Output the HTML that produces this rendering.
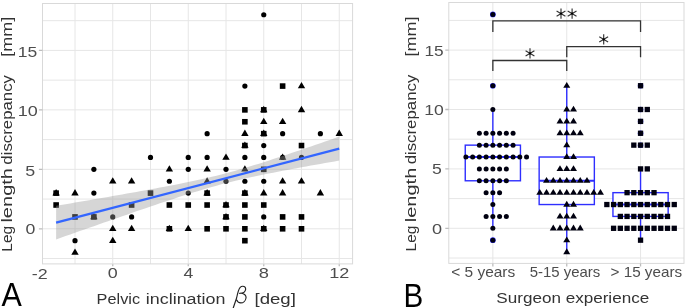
<!DOCTYPE html>
<html><head><meta charset="utf-8"><style>
html,body{margin:0;padding:0;background:#fff;}
body{width:685px;height:308px;overflow:hidden;font-family:"Liberation Sans",sans-serif;}
svg{display:block;will-change:transform;}
</style></head><body>
<svg width="685" height="308" viewBox="0 0 685 308">
<rect width="685" height="308" fill="#fff"/>
<path d="M75.00 3.5V263.9 M112.75 3.5V263.9 M150.50 3.5V263.9 M188.25 3.5V263.9 M226.00 3.5V263.9 M263.75 3.5V263.9 M301.50 3.5V263.9 M339.25 3.5V263.9 M42.5 258.53H352.6 M42.5 228.80H352.6 M42.5 199.07H352.6 M42.5 169.34H352.6 M42.5 139.60H352.6 M42.5 109.87H352.6 M42.5 80.14H352.6 M42.5 50.41H352.6 M42.5 20.67H352.6" stroke="#e6e6e6" stroke-width="1" fill="none"/>
<rect x="42.5" y="3.5" width="310.1" height="260.4" fill="none" stroke="#d9d9d9" stroke-width="1"/>
<g><rect x="53.33" y="190.32" width="5.6" height="5.6" fill="#000"/><polygon points="56.12,189.09 59.83,195.39 52.42,195.39" fill="#000"/><rect x="53.33" y="202.21" width="5.6" height="5.6" fill="#000"/><polygon points="75.00,189.09 78.70,195.39 71.30,195.39" fill="#000"/><rect x="72.20" y="214.11" width="5.6" height="5.6" fill="#000"/><circle cx="75.00" cy="240.69" r="2.6" fill="#000"/><polygon points="75.00,248.55 78.70,254.85 71.30,254.85" fill="#000"/><circle cx="93.88" cy="169.34" r="2.6" fill="#000"/><circle cx="93.88" cy="193.12" r="2.6" fill="#000"/><rect x="91.08" y="214.11" width="5.6" height="5.6" fill="#000"/><polygon points="93.88,212.88 97.58,219.18 90.17,219.18" fill="#000"/><polygon points="112.75,177.20 116.45,183.50 109.05,183.50" fill="#000"/><circle cx="112.75" cy="216.91" r="2.6" fill="#000"/><polygon points="112.75,224.77 116.45,231.07 109.05,231.07" fill="#000"/><polygon points="112.75,236.66 116.45,242.96 109.05,242.96" fill="#000"/><polygon points="131.62,177.20 135.32,183.50 127.92,183.50" fill="#000"/><rect x="128.82" y="202.21" width="5.6" height="5.6" fill="#000"/><circle cx="131.62" cy="216.91" r="2.6" fill="#000"/><polygon points="131.62,224.77 135.32,231.07 127.92,231.07" fill="#000"/><circle cx="150.50" cy="157.44" r="2.6" fill="#000"/><rect x="147.70" y="190.32" width="5.6" height="5.6" fill="#000"/><polygon points="169.38,165.30 173.07,171.60 165.68,171.60" fill="#000"/><circle cx="169.38" cy="181.23" r="2.6" fill="#000"/><rect x="166.57" y="202.21" width="5.6" height="5.6" fill="#000"/><rect x="166.57" y="226.00" width="5.6" height="5.6" fill="#000"/><polygon points="169.38,224.77 173.07,231.07 165.68,231.07" fill="#000"/><circle cx="188.25" cy="157.44" r="2.6" fill="#000"/><circle cx="188.25" cy="169.34" r="2.6" fill="#000"/><circle cx="188.25" cy="193.12" r="2.6" fill="#000"/><rect x="185.45" y="202.21" width="5.6" height="5.6" fill="#000"/><polygon points="188.25,224.77 191.95,231.07 184.55,231.07" fill="#000"/><circle cx="207.12" cy="133.66" r="2.6" fill="#000"/><circle cx="207.12" cy="157.44" r="2.6" fill="#000"/><polygon points="207.12,165.30 210.82,171.60 203.43,171.60" fill="#000"/><polygon points="207.12,177.20 210.82,183.50 203.43,183.50" fill="#000"/><rect x="204.32" y="190.32" width="5.6" height="5.6" fill="#000"/><polygon points="207.12,189.09 210.82,195.39 203.43,195.39" fill="#000"/><rect x="204.32" y="202.21" width="5.6" height="5.6" fill="#000"/><rect x="204.32" y="226.00" width="5.6" height="5.6" fill="#000"/><polygon points="226.00,153.41 229.70,159.71 222.30,159.71" fill="#000"/><circle cx="226.00" cy="169.34" r="2.6" fill="#000"/><circle cx="226.00" cy="181.23" r="2.6" fill="#000"/><rect x="223.20" y="202.21" width="5.6" height="5.6" fill="#000"/><polygon points="226.00,200.98 229.70,207.28 222.30,207.28" fill="#000"/><rect x="223.20" y="214.11" width="5.6" height="5.6" fill="#000"/><polygon points="226.00,212.88 229.70,219.18 222.30,219.18" fill="#000"/><rect x="223.20" y="226.00" width="5.6" height="5.6" fill="#000"/><circle cx="244.88" cy="86.08" r="2.6" fill="#000"/><rect x="242.07" y="107.07" width="5.6" height="5.6" fill="#000"/><rect x="242.07" y="118.96" width="5.6" height="5.6" fill="#000"/><polygon points="244.88,129.62 248.57,135.92 241.18,135.92" fill="#000"/><rect x="242.07" y="142.75" width="5.6" height="5.6" fill="#000"/><polygon points="244.88,141.52 248.57,147.82 241.18,147.82" fill="#000"/><circle cx="244.88" cy="157.44" r="2.6" fill="#000"/><polygon points="244.88,165.30 248.57,171.60 241.18,171.60" fill="#000"/><circle cx="244.88" cy="181.23" r="2.6" fill="#000"/><rect x="242.07" y="190.32" width="5.6" height="5.6" fill="#000"/><polygon points="244.88,189.09 248.57,195.39 241.18,195.39" fill="#000"/><rect x="242.07" y="202.21" width="5.6" height="5.6" fill="#000"/><rect x="242.07" y="214.11" width="5.6" height="5.6" fill="#000"/><rect x="242.07" y="226.00" width="5.6" height="5.6" fill="#000"/><rect x="242.07" y="237.89" width="5.6" height="5.6" fill="#000"/><circle cx="263.75" cy="14.73" r="2.6" fill="#000"/><rect x="260.95" y="107.07" width="5.6" height="5.6" fill="#000"/><polygon points="263.75,105.84 267.45,112.14 260.05,112.14" fill="#000"/><polygon points="263.75,117.73 267.45,124.03 260.05,124.03" fill="#000"/><rect x="260.95" y="130.86" width="5.6" height="5.6" fill="#000"/><polygon points="263.75,129.62 267.45,135.92 260.05,135.92" fill="#000"/><circle cx="263.75" cy="145.55" r="2.6" fill="#000"/><circle cx="263.75" cy="157.44" r="2.6" fill="#000"/><rect x="260.95" y="166.53" width="5.6" height="5.6" fill="#000"/><circle cx="263.75" cy="181.23" r="2.6" fill="#000"/><polygon points="263.75,189.09 267.45,195.39 260.05,195.39" fill="#000"/><rect x="260.95" y="202.21" width="5.6" height="5.6" fill="#000"/><circle cx="263.75" cy="216.91" r="2.6" fill="#000"/><rect x="260.95" y="226.00" width="5.6" height="5.6" fill="#000"/><polygon points="263.75,224.77 267.45,231.07 260.05,231.07" fill="#000"/><rect x="279.82" y="83.28" width="5.6" height="5.6" fill="#000"/><polygon points="282.62,117.73 286.32,124.03 278.93,124.03" fill="#000"/><circle cx="282.62" cy="133.66" r="2.6" fill="#000"/><circle cx="282.62" cy="157.44" r="2.6" fill="#000"/><polygon points="282.62,153.41 286.32,159.71 278.93,159.71" fill="#000"/><polygon points="282.62,177.20 286.32,183.50 278.93,183.50" fill="#000"/><polygon points="282.62,189.09 286.32,195.39 278.93,195.39" fill="#000"/><rect x="279.82" y="214.11" width="5.6" height="5.6" fill="#000"/><rect x="279.82" y="226.00" width="5.6" height="5.6" fill="#000"/><polygon points="301.50,82.05 305.20,88.35 297.80,88.35" fill="#000"/><polygon points="301.50,105.84 305.20,112.14 297.80,112.14" fill="#000"/><rect x="298.70" y="142.75" width="5.6" height="5.6" fill="#000"/><circle cx="301.50" cy="157.44" r="2.6" fill="#000"/><polygon points="301.50,177.20 305.20,183.50 297.80,183.50" fill="#000"/><rect x="298.70" y="214.11" width="5.6" height="5.6" fill="#000"/><rect x="298.70" y="226.00" width="5.6" height="5.6" fill="#000"/><circle cx="320.38" cy="133.66" r="2.6" fill="#000"/><polygon points="320.38,189.09 324.07,195.39 316.68,195.39" fill="#000"/><polygon points="339.25,129.62 342.95,135.92 335.55,135.92" fill="#000"/></g>
<polygon points="56.12,205.81 60.84,205.00 65.56,204.20 70.28,203.39 75.00,202.59 79.72,201.78 84.44,200.97 89.16,200.15 93.88,199.34 98.59,198.53 103.31,197.71 108.03,196.89 112.75,196.06 117.47,195.24 122.19,194.41 126.91,193.57 131.62,192.74 136.34,191.89 141.06,191.05 145.78,190.19 150.50,189.33 155.22,188.46 159.94,187.59 164.66,186.70 169.38,185.80 174.09,184.89 178.81,183.96 183.53,183.02 188.25,182.05 192.97,181.07 197.69,180.06 202.41,179.02 207.12,177.94 211.84,176.83 216.56,175.69 221.28,174.50 226.00,173.28 230.72,172.01 235.44,170.70 240.16,169.36 244.88,167.98 249.59,166.56 254.31,165.12 259.03,163.65 263.75,162.15 268.47,160.64 273.19,159.10 277.91,157.55 282.62,155.99 287.34,154.41 292.06,152.83 296.78,151.23 301.50,149.63 306.22,148.02 310.94,146.40 315.66,144.78 320.38,143.15 325.09,141.52 329.81,139.88 334.53,138.24 339.25,136.60 339.25,160.60 334.53,161.42 329.81,162.25 325.09,163.08 320.38,163.92 315.66,164.76 310.94,165.60 306.22,166.45 301.50,167.31 296.78,168.17 292.06,169.04 287.34,169.92 282.62,170.81 277.91,171.71 273.19,172.63 268.47,173.56 263.75,174.52 259.03,175.49 254.31,176.48 249.59,177.50 244.88,178.56 240.16,179.64 235.44,180.76 230.72,181.92 226.00,183.12 221.28,184.36 216.56,185.64 211.84,186.97 207.12,188.32 202.41,189.72 197.69,191.14 192.97,192.60 188.25,194.08 183.53,195.58 178.81,197.10 174.09,198.64 169.38,200.20 164.66,201.77 159.94,203.35 155.22,204.94 150.50,206.53 145.78,208.14 141.06,209.75 136.34,211.37 131.62,213.00 126.91,214.63 122.19,216.26 117.47,217.90 112.75,219.54 108.03,221.18 103.31,222.83 98.59,224.47 93.88,226.13 89.16,227.78 84.44,229.43 79.72,231.09 75.00,232.75 70.28,234.41 65.56,236.07 60.84,237.73 56.12,239.39" fill="#999999" fill-opacity="0.4"/>
<line x1="56.12" y1="222.60" x2="339.25" y2="148.60" stroke="#3366FF" stroke-width="2.3"/>
<path d="M38.9 228.80H42.5 M38.9 169.34H42.5 M38.9 109.87H42.5 M38.9 50.41H42.5 M112.75 264.2V266.2 M188.25 264.2V266.2 M263.75 264.2V266.2 M339.25 264.2V266.2" stroke="#bdbdbd" stroke-width="1.3" fill="none"/>
<path d="M492.85 2.5V263.4 M566.75 2.5V263.4 M640.55 2.5V263.4 M448.8 258.00H684.0 M448.8 228.30H684.0 M448.8 198.60H684.0 M448.8 168.90H684.0 M448.8 139.20H684.0 M448.8 109.50H684.0 M448.8 79.80H684.0 M448.8 50.10H684.0 M448.8 20.40H684.0" stroke="#e6e6e6" stroke-width="1" fill="none"/>
<rect x="448.8" y="2.5" width="235.2" height="260.9" fill="none" stroke="#d9d9d9" stroke-width="1"/>
<line x1="492.85" y1="145.14" x2="492.85" y2="109.50" stroke="#2e2eff" stroke-width="1.4"/><line x1="492.85" y1="180.78" x2="492.85" y2="228.30" stroke="#2e2eff" stroke-width="1.4"/><rect x="465.25" y="145.14" width="55.2" height="35.64" fill="#fff" stroke="#2e2eff" stroke-width="1.4"/><line x1="465.25" y1="157.02" x2="520.45" y2="157.02" stroke="#2e2eff" stroke-width="2"/><line x1="566.75" y1="157.02" x2="566.75" y2="85.74" stroke="#2e2eff" stroke-width="1.4"/><line x1="566.75" y1="204.54" x2="566.75" y2="252.06" stroke="#2e2eff" stroke-width="1.4"/><rect x="539.15" y="157.02" width="55.2" height="47.52" fill="#fff" stroke="#2e2eff" stroke-width="1.4"/><line x1="539.15" y1="180.78" x2="594.35" y2="180.78" stroke="#2e2eff" stroke-width="2"/><line x1="640.55" y1="192.66" x2="640.55" y2="168.90" stroke="#2e2eff" stroke-width="1.4"/><line x1="640.55" y1="216.42" x2="640.55" y2="240.18" stroke="#2e2eff" stroke-width="1.4"/><rect x="612.95" y="192.66" width="55.2" height="23.76" fill="#fff" stroke="#2e2eff" stroke-width="1.4"/><line x1="612.95" y1="204.54" x2="668.15" y2="204.54" stroke="#2e2eff" stroke-width="2"/>
<g><circle cx="492.85" cy="14.46" r="2.85" fill="#2e2eff"/><circle cx="492.85" cy="85.74" r="2.85" fill="#2e2eff"/><circle cx="492.85" cy="240.18" r="2.85" fill="#2e2eff"/><circle cx="640.55" cy="85.74" r="2.75" fill="#2e2eff"/><circle cx="640.55" cy="109.50" r="2.75" fill="#2e2eff"/><circle cx="640.55" cy="121.38" r="2.75" fill="#2e2eff"/><circle cx="640.55" cy="133.26" r="2.75" fill="#2e2eff"/><circle cx="640.55" cy="145.14" r="2.75" fill="#2e2eff"/></g>
<g><circle cx="492.85" cy="14.46" r="2.5" fill="#000010"/><circle cx="492.85" cy="85.74" r="2.5" fill="#000010"/><circle cx="492.85" cy="109.50" r="2.5" fill="#000010"/><circle cx="479.37" cy="133.26" r="2.5" fill="#000010"/><circle cx="486.11" cy="133.26" r="2.5" fill="#000010"/><circle cx="492.85" cy="133.26" r="2.5" fill="#000010"/><circle cx="499.59" cy="133.26" r="2.5" fill="#000010"/><circle cx="506.33" cy="133.26" r="2.5" fill="#000010"/><circle cx="513.07" cy="133.26" r="2.5" fill="#000010"/><circle cx="479.37" cy="145.14" r="2.5" fill="#000010"/><circle cx="486.11" cy="145.14" r="2.5" fill="#000010"/><circle cx="492.85" cy="145.14" r="2.5" fill="#000010"/><circle cx="499.59" cy="145.14" r="2.5" fill="#000010"/><circle cx="506.33" cy="145.14" r="2.5" fill="#000010"/><circle cx="513.07" cy="145.14" r="2.5" fill="#000010"/><circle cx="465.89" cy="157.02" r="2.5" fill="#000010"/><circle cx="472.63" cy="157.02" r="2.5" fill="#000010"/><circle cx="479.37" cy="157.02" r="2.5" fill="#000010"/><circle cx="486.11" cy="157.02" r="2.5" fill="#000010"/><circle cx="492.85" cy="157.02" r="2.5" fill="#000010"/><circle cx="499.59" cy="157.02" r="2.5" fill="#000010"/><circle cx="506.33" cy="157.02" r="2.5" fill="#000010"/><circle cx="513.07" cy="157.02" r="2.5" fill="#000010"/><circle cx="519.81" cy="157.02" r="2.5" fill="#000010"/><circle cx="526.55" cy="157.02" r="2.5" fill="#000010"/><circle cx="479.37" cy="168.90" r="2.5" fill="#000010"/><circle cx="486.11" cy="168.90" r="2.5" fill="#000010"/><circle cx="492.85" cy="168.90" r="2.5" fill="#000010"/><circle cx="499.59" cy="168.90" r="2.5" fill="#000010"/><circle cx="506.33" cy="168.90" r="2.5" fill="#000010"/><circle cx="479.37" cy="180.78" r="2.5" fill="#000010"/><circle cx="486.11" cy="180.78" r="2.5" fill="#000010"/><circle cx="492.85" cy="180.78" r="2.5" fill="#000010"/><circle cx="499.59" cy="180.78" r="2.5" fill="#000010"/><circle cx="506.33" cy="180.78" r="2.5" fill="#000010"/><circle cx="486.11" cy="192.66" r="2.5" fill="#000010"/><circle cx="492.85" cy="192.66" r="2.5" fill="#000010"/><circle cx="499.59" cy="192.66" r="2.5" fill="#000010"/><circle cx="492.85" cy="204.54" r="2.5" fill="#000010"/><circle cx="486.11" cy="216.42" r="2.5" fill="#000010"/><circle cx="492.85" cy="216.42" r="2.5" fill="#000010"/><circle cx="499.59" cy="216.42" r="2.5" fill="#000010"/><circle cx="506.33" cy="216.42" r="2.5" fill="#000010"/><circle cx="492.85" cy="228.30" r="2.5" fill="#000010"/><circle cx="492.85" cy="240.18" r="2.5" fill="#000010"/><polygon points="566.75,82.03 570.25,87.83 563.25,87.83" fill="#000010"/><polygon points="566.75,105.79 570.25,111.59 563.25,111.59" fill="#000010"/><polygon points="573.49,105.79 576.99,111.59 569.99,111.59" fill="#000010"/><polygon points="560.01,117.67 563.51,123.47 556.51,123.47" fill="#000010"/><polygon points="566.75,117.67 570.25,123.47 563.25,123.47" fill="#000010"/><polygon points="573.49,117.67 576.99,123.47 569.99,123.47" fill="#000010"/><polygon points="560.01,129.55 563.51,135.35 556.51,135.35" fill="#000010"/><polygon points="566.75,129.55 570.25,135.35 563.25,135.35" fill="#000010"/><polygon points="573.49,129.55 576.99,135.35 569.99,135.35" fill="#000010"/><polygon points="580.23,129.55 583.73,135.35 576.73,135.35" fill="#000010"/><polygon points="566.75,141.43 570.25,147.23 563.25,147.23" fill="#000010"/><polygon points="566.75,153.31 570.25,159.11 563.25,159.11" fill="#000010"/><polygon points="573.49,153.31 576.99,159.11 569.99,159.11" fill="#000010"/><polygon points="560.01,165.19 563.51,170.99 556.51,170.99" fill="#000010"/><polygon points="566.75,165.19 570.25,170.99 563.25,170.99" fill="#000010"/><polygon points="573.49,165.19 576.99,170.99 569.99,170.99" fill="#000010"/><polygon points="546.53,177.07 550.03,182.87 543.03,182.87" fill="#000010"/><polygon points="553.27,177.07 556.77,182.87 549.77,182.87" fill="#000010"/><polygon points="560.01,177.07 563.51,182.87 556.51,182.87" fill="#000010"/><polygon points="566.75,177.07 570.25,182.87 563.25,182.87" fill="#000010"/><polygon points="573.49,177.07 576.99,182.87 569.99,182.87" fill="#000010"/><polygon points="580.23,177.07 583.73,182.87 576.73,182.87" fill="#000010"/><polygon points="586.97,177.07 590.47,182.87 583.47,182.87" fill="#000010"/><polygon points="539.79,188.95 543.29,194.75 536.29,194.75" fill="#000010"/><polygon points="546.53,188.95 550.03,194.75 543.03,194.75" fill="#000010"/><polygon points="553.27,188.95 556.77,194.75 549.77,194.75" fill="#000010"/><polygon points="560.01,188.95 563.51,194.75 556.51,194.75" fill="#000010"/><polygon points="566.75,188.95 570.25,194.75 563.25,194.75" fill="#000010"/><polygon points="573.49,188.95 576.99,194.75 569.99,194.75" fill="#000010"/><polygon points="580.23,188.95 583.73,194.75 576.73,194.75" fill="#000010"/><polygon points="586.97,188.95 590.47,194.75 583.47,194.75" fill="#000010"/><polygon points="593.71,188.95 597.21,194.75 590.21,194.75" fill="#000010"/><polygon points="600.45,188.95 603.95,194.75 596.95,194.75" fill="#000010"/><polygon points="566.75,200.83 570.25,206.63 563.25,206.63" fill="#000010"/><polygon points="573.49,200.83 576.99,206.63 569.99,206.63" fill="#000010"/><polygon points="560.01,212.71 563.51,218.51 556.51,218.51" fill="#000010"/><polygon points="566.75,212.71 570.25,218.51 563.25,218.51" fill="#000010"/><polygon points="573.49,212.71 576.99,218.51 569.99,218.51" fill="#000010"/><polygon points="553.27,224.59 556.77,230.39 549.77,230.39" fill="#000010"/><polygon points="560.01,224.59 563.51,230.39 556.51,230.39" fill="#000010"/><polygon points="566.75,224.59 570.25,230.39 563.25,230.39" fill="#000010"/><polygon points="573.49,224.59 576.99,230.39 569.99,230.39" fill="#000010"/><polygon points="580.23,224.59 583.73,230.39 576.73,230.39" fill="#000010"/><polygon points="566.75,236.47 570.25,242.27 563.25,242.27" fill="#000010"/><polygon points="566.75,248.35 570.25,254.15 563.25,254.15" fill="#000010"/><rect x="637.90" y="83.09" width="5.3" height="5.3" fill="#000010"/><rect x="637.90" y="106.85" width="5.3" height="5.3" fill="#000010"/><rect x="644.64" y="106.85" width="5.3" height="5.3" fill="#000010"/><rect x="637.90" y="118.73" width="5.3" height="5.3" fill="#000010"/><rect x="637.90" y="130.61" width="5.3" height="5.3" fill="#000010"/><rect x="631.16" y="142.49" width="5.3" height="5.3" fill="#000010"/><rect x="637.90" y="142.49" width="5.3" height="5.3" fill="#000010"/><rect x="644.64" y="142.49" width="5.3" height="5.3" fill="#000010"/><rect x="637.90" y="166.25" width="5.3" height="5.3" fill="#000010"/><rect x="644.64" y="166.25" width="5.3" height="5.3" fill="#000010"/><rect x="624.42" y="190.01" width="5.3" height="5.3" fill="#000010"/><rect x="631.16" y="190.01" width="5.3" height="5.3" fill="#000010"/><rect x="637.90" y="190.01" width="5.3" height="5.3" fill="#000010"/><rect x="644.64" y="190.01" width="5.3" height="5.3" fill="#000010"/><rect x="651.38" y="190.01" width="5.3" height="5.3" fill="#000010"/><rect x="604.20" y="201.89" width="5.3" height="5.3" fill="#000010"/><rect x="610.94" y="201.89" width="5.3" height="5.3" fill="#000010"/><rect x="617.68" y="201.89" width="5.3" height="5.3" fill="#000010"/><rect x="624.42" y="201.89" width="5.3" height="5.3" fill="#000010"/><rect x="631.16" y="201.89" width="5.3" height="5.3" fill="#000010"/><rect x="637.90" y="201.89" width="5.3" height="5.3" fill="#000010"/><rect x="644.64" y="201.89" width="5.3" height="5.3" fill="#000010"/><rect x="651.38" y="201.89" width="5.3" height="5.3" fill="#000010"/><rect x="658.12" y="201.89" width="5.3" height="5.3" fill="#000010"/><rect x="664.86" y="201.89" width="5.3" height="5.3" fill="#000010"/><rect x="671.60" y="201.89" width="5.3" height="5.3" fill="#000010"/><rect x="617.68" y="213.77" width="5.3" height="5.3" fill="#000010"/><rect x="624.42" y="213.77" width="5.3" height="5.3" fill="#000010"/><rect x="631.16" y="213.77" width="5.3" height="5.3" fill="#000010"/><rect x="637.90" y="213.77" width="5.3" height="5.3" fill="#000010"/><rect x="644.64" y="213.77" width="5.3" height="5.3" fill="#000010"/><rect x="651.38" y="213.77" width="5.3" height="5.3" fill="#000010"/><rect x="658.12" y="213.77" width="5.3" height="5.3" fill="#000010"/><rect x="664.86" y="213.77" width="5.3" height="5.3" fill="#000010"/><rect x="610.94" y="225.65" width="5.3" height="5.3" fill="#000010"/><rect x="617.68" y="225.65" width="5.3" height="5.3" fill="#000010"/><rect x="624.42" y="225.65" width="5.3" height="5.3" fill="#000010"/><rect x="631.16" y="225.65" width="5.3" height="5.3" fill="#000010"/><rect x="637.90" y="225.65" width="5.3" height="5.3" fill="#000010"/><rect x="644.64" y="225.65" width="5.3" height="5.3" fill="#000010"/><rect x="651.38" y="225.65" width="5.3" height="5.3" fill="#000010"/><rect x="658.12" y="225.65" width="5.3" height="5.3" fill="#000010"/><rect x="664.86" y="225.65" width="5.3" height="5.3" fill="#000010"/><rect x="671.60" y="225.65" width="5.3" height="5.3" fill="#000010"/><rect x="637.90" y="237.53" width="5.3" height="5.3" fill="#000010"/></g>
<path d="M492.85 31.9V20.9H640.55V31.9" stroke="#333333" stroke-width="1.3" fill="none"/>
<path d="M492.85 71.1V60.5H566.75V71.1" stroke="#333333" stroke-width="1.3" fill="none"/>
<path d="M566.75 57.2V46.6H640.55V57.2" stroke="#333333" stroke-width="1.3" fill="none"/>
<path d="M561.00 8.50V18.70M556.58 11.05L565.42 16.15M556.58 16.15L565.42 11.05" stroke="#333333" stroke-width="1.15" fill="none"/><circle cx="561.00" cy="13.60" r="1.15" fill="#000"/>
<path d="M572.10 8.50V18.70M567.68 11.05L576.52 16.15M567.68 16.15L576.52 11.05" stroke="#333333" stroke-width="1.15" fill="none"/><circle cx="572.10" cy="13.60" r="1.15" fill="#000"/>
<path d="M530.00 48.30V58.50M525.58 50.85L534.42 55.95M525.58 55.95L534.42 50.85" stroke="#333333" stroke-width="1.15" fill="none"/><circle cx="530.00" cy="53.40" r="1.15" fill="#000"/>
<path d="M603.70 34.30V44.50M599.28 36.85L608.12 41.95M599.28 41.95L608.12 36.85" stroke="#333333" stroke-width="1.15" fill="none"/><circle cx="603.70" cy="39.40" r="1.15" fill="#000"/>
<path d="M445.3 228.30H448.8 M445.3 168.90H448.8 M445.3 109.50H448.8 M445.3 50.10H448.8 M492.85 263.5V266.5 M566.75 263.5V266.5 M640.55 263.5V266.5" stroke="#bdbdbd" stroke-width="1.3" fill="none"/>
<text x="25.49" y="233.80" font-family="Liberation Sans" font-style="normal" font-size="15.3" fill="#4d4d4d" textLength="9.85" lengthAdjust="spacingAndGlyphs">0</text>
<text x="25.29" y="175.60" font-family="Liberation Sans" font-style="normal" font-size="15.3" fill="#4d4d4d" textLength="9.94" lengthAdjust="spacingAndGlyphs">5</text>
<text x="17.66" y="115.60" font-family="Liberation Sans" font-style="normal" font-size="15.3" fill="#4d4d4d" textLength="20.00" lengthAdjust="spacingAndGlyphs">10</text>
<text x="17.80" y="56.70" font-family="Liberation Sans" font-style="normal" font-size="15.3" fill="#4d4d4d" textLength="19.44" lengthAdjust="spacingAndGlyphs">15</text>
<text x="431.97" y="233.60" font-family="Liberation Sans" font-style="normal" font-size="15.3" fill="#4d4d4d" textLength="10.08" lengthAdjust="spacingAndGlyphs">0</text>
<text x="431.99" y="174.10" font-family="Liberation Sans" font-style="normal" font-size="15.3" fill="#4d4d4d" textLength="9.82" lengthAdjust="spacingAndGlyphs">5</text>
<text x="424.19" y="115.20" font-family="Liberation Sans" font-style="normal" font-size="15.3" fill="#4d4d4d" textLength="19.55" lengthAdjust="spacingAndGlyphs">10</text>
<text x="424.52" y="55.60" font-family="Liberation Sans" font-style="normal" font-size="15.3" fill="#4d4d4d" textLength="19.21" lengthAdjust="spacingAndGlyphs">15</text>
<text x="31.79" y="278.90" font-family="Liberation Sans" font-style="normal" font-size="15.3" fill="#4d4d4d" textLength="15.89" lengthAdjust="spacingAndGlyphs">-2</text>
<text x="107.78" y="277.60" font-family="Liberation Sans" font-style="normal" font-size="15.3" fill="#4d4d4d" textLength="9.97" lengthAdjust="spacingAndGlyphs">0</text>
<text x="183.45" y="277.60" font-family="Liberation Sans" font-style="normal" font-size="15.3" fill="#4d4d4d" textLength="9.82" lengthAdjust="spacingAndGlyphs">4</text>
<text x="258.77" y="277.60" font-family="Liberation Sans" font-style="normal" font-size="15.3" fill="#4d4d4d" textLength="10.18" lengthAdjust="spacingAndGlyphs">8</text>
<text x="329.16" y="277.60" font-family="Liberation Sans" font-style="normal" font-size="15.3" fill="#4d4d4d" textLength="20.09" lengthAdjust="spacingAndGlyphs">12</text>
<text x="451.23" y="276.90" font-family="Liberation Sans" font-style="normal" font-size="14.5" fill="#4d4d4d" textLength="64.01" lengthAdjust="spacingAndGlyphs">&lt; 5 years</text>
<text x="529.70" y="276.90" font-family="Liberation Sans" font-style="normal" font-size="14.5" fill="#4d4d4d" textLength="70.62" lengthAdjust="spacingAndGlyphs">5-15 years</text>
<text x="610.54" y="276.90" font-family="Liberation Sans" font-style="normal" font-size="14.5" fill="#4d4d4d" textLength="71.63" lengthAdjust="spacingAndGlyphs">&gt; 15 years</text>
<text x="96.60" y="303.50" font-family="Liberation Sans" font-style="normal" font-size="15.5" fill="#333333" textLength="43.45" lengthAdjust="spacingAndGlyphs">Pelvic</text>
<text x="145.85" y="303.50" font-family="Liberation Sans" font-style="normal" font-size="15.5" fill="#333333" textLength="79.56" lengthAdjust="spacingAndGlyphs">inclination</text>
<text x="254.50" y="303.50" font-family="Liberation Sans" font-style="normal" font-size="15.5" fill="#333333" textLength="41.38" lengthAdjust="spacingAndGlyphs">[deg]</text>
<text x="496.35" y="303.00" font-family="Liberation Sans" font-style="normal" font-size="15.5" fill="#333333" textLength="152.85" lengthAdjust="spacingAndGlyphs">Surgeon experience</text>
<text x="1.50" y="306.20" font-family="Liberation Sans" font-style="normal" font-size="32.3" fill="#000" textLength="20.31" lengthAdjust="spacingAndGlyphs">A</text>
<text x="403.43" y="306.70" font-family="Liberation Sans" font-style="normal" font-size="32.3" fill="#000" textLength="19.76" lengthAdjust="spacingAndGlyphs">B</text>
<g transform="translate(12.30,251.74) rotate(-90)"><text x="0" y="0" font-family="Liberation Sans" font-style="normal" font-size="15.0" fill="#333333" textLength="25.91" lengthAdjust="spacingAndGlyphs" xml:space="preserve">Leg</text></g>
<g transform="translate(12.30,222.60) rotate(-90)"><text x="0" y="0" font-family="Liberation Sans" font-style="normal" font-size="15.0" fill="#333333" textLength="54.60" lengthAdjust="spacingAndGlyphs" xml:space="preserve">length</text></g>
<g transform="translate(12.30,164.67) rotate(-90)"><text x="0" y="0" font-family="Liberation Sans" font-style="normal" font-size="15.0" fill="#333333" textLength="89.67" lengthAdjust="spacingAndGlyphs" xml:space="preserve">discrepancy</text></g>
<g transform="translate(12.30,56.76) rotate(-90)"><text x="0" y="0" font-family="Liberation Sans" font-style="normal" font-size="15.0" fill="#333333" textLength="40.06" lengthAdjust="spacingAndGlyphs" xml:space="preserve">[mm]</text></g>
<g transform="translate(416.10,251.44) rotate(-90)"><text x="0" y="0" font-family="Liberation Sans" font-style="normal" font-size="15.0" fill="#333333" textLength="25.91" lengthAdjust="spacingAndGlyphs" xml:space="preserve">Leg</text></g>
<g transform="translate(416.10,222.30) rotate(-90)"><text x="0" y="0" font-family="Liberation Sans" font-style="normal" font-size="15.0" fill="#333333" textLength="54.60" lengthAdjust="spacingAndGlyphs" xml:space="preserve">length</text></g>
<g transform="translate(416.10,164.37) rotate(-90)"><text x="0" y="0" font-family="Liberation Sans" font-style="normal" font-size="15.0" fill="#333333" textLength="89.67" lengthAdjust="spacingAndGlyphs" xml:space="preserve">discrepancy</text></g>
<g transform="translate(416.10,56.46) rotate(-90)"><text x="0" y="0" font-family="Liberation Sans" font-style="normal" font-size="15.0" fill="#333333" textLength="40.06" lengthAdjust="spacingAndGlyphs" xml:space="preserve">[mm]</text></g>
<path d="M233.3 307.7L236.6 298.0C237.6 293.0 238.6 289.0 240.2 287.3C241.6 285.9 244.0 285.9 245.0 287.2C246.2 288.8 245.6 291.2 243.8 292.4C242.8 293.1 241.2 293.3 239.6 293.3M241.2 293.3C244.2 293.5 246.4 295.3 246.0 298.0C245.6 300.8 243.2 302.9 240.8 302.9C238.8 302.9 237.3 301.8 236.9 300.2" stroke="#222" stroke-width="1.15" fill="none" stroke-linecap="round"/>
</svg>
</body></html>
